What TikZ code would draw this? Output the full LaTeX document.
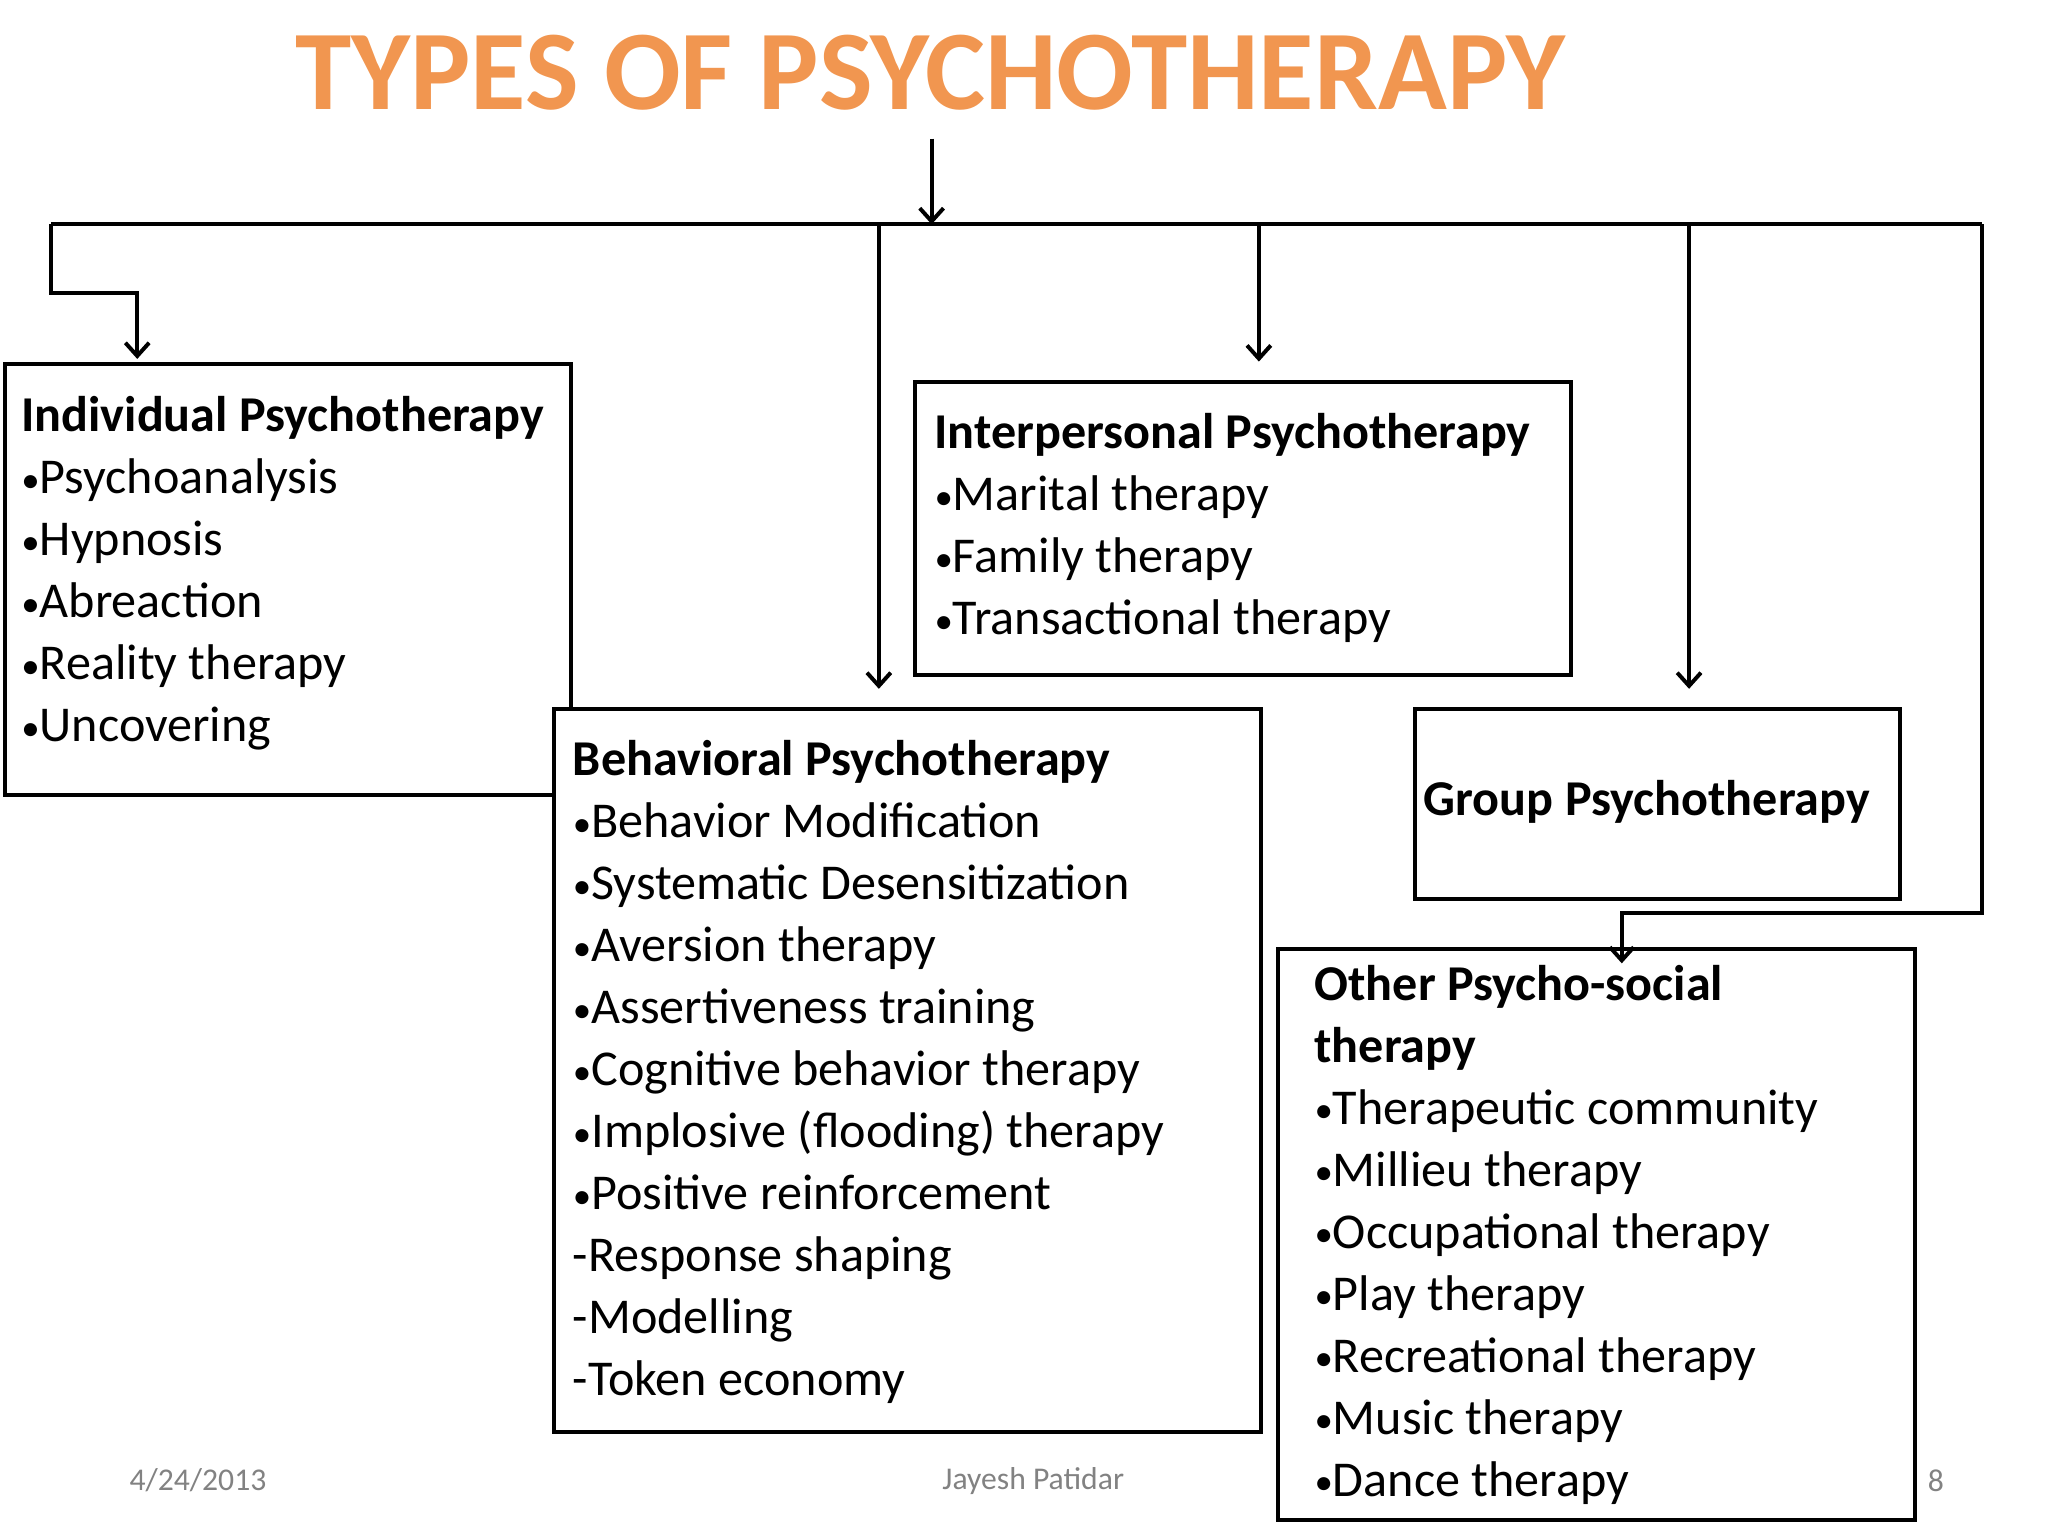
\documentclass[tikz,border=0pt]{standalone}
\usepackage{fontspec}
\setmainfont{Carlito}
\usetikzlibrary{arrows.meta}
\definecolor{ttl}{RGB}{241,150,80}
\definecolor{foot}{RGB}{130,130,130}
\newcommand{\bul}{{\fontsize{28}{47}\selectfont\raisebox{1pt}{•}}}
\begin{document}
\begin{tikzpicture}[x=1pt,y=-1pt,
  box/.style={draw,line width=3pt,fill=white,anchor=north west,inner sep=0pt},
  txt/.style={anchor=north west,align=left,inner sep=0pt,font=\fontsize{38}{47}\selectfont},
  ln/.style={line width=3pt},
  arr/.style={ln,-{Straight Barb[length=10pt,width=18pt,line width=3pt]}},
  ft/.style={text=foot,font=\fontsize{24}{28}\selectfont}]
\useasboundingbox (0,0) rectangle (1552,1164);
\node[text=ttl,font=\fontsize{86}{90}\selectfont\bfseries] (title) at (705,55) {TYPES OF PSYCHOTHERAPY};
% boxes
\node[box,minimum width=429pt,minimum height=327pt] (ind) at (2,274) {};
\node[box,minimum width=536pt,minimum height=548pt] (beh) at (418,536) {};
\node[box,minimum width=497pt,minimum height=222pt] (int) at (692,288) {};
\node[box,minimum width=367pt,minimum height=144pt] (grp) at (1071,536) {};
\node[box,minimum width=483pt,minimum height=432pt] (oth) at (967,718) {};
% texts
\node[txt] (indt) at (16,300) {\textbf{Individual Psychotherapy}\\\bul Psychoanalysis\\\bul Hypnosis\\\bul Abreaction\\\bul Reality therapy\\\bul Uncovering};
\node[txt] (beht) at (434,561) {\textbf{Behavioral Psychotherapy}\\\bul Behavior Modification\\\bul Systematic Desensitization\\\bul Aversion therapy\\\bul Assertiveness training\\\bul Cognitive behavior therapy\\\bul Implosive (flooding) therapy\\\bul Positive reinforcement\\-Response shaping\\-Modelling\\-Token economy};
\node[txt] (intt) at (708,313) {\textbf{Interpersonal Psychotherapy}\\\bul Marital therapy\\\bul Family therapy\\\bul Transactional therapy};
\node[txt,font=\fontsize{38}{47}\selectfont\bfseries,anchor=center] (grpt) at (1248,608) {Group Psychotherapy};
\node[txt] (otht) at (996,731) {\textbf{Other Psycho-social}\\\textbf{therapy}\\\bul Therapeutic community\\\bul Millieu therapy\\\bul Occupational therapy\\\bul Play therapy\\\bul Recreational therapy\\\bul Music therapy\\\bul Dance therapy};
% connectors
\coordinate (top) at (706,105);
\coordinate (bus) at (706,170);
\coordinate (busL) at (39,170);
\coordinate (busR) at (1502,170);
\draw[arr] (top) -- (bus);
\draw[ln] (busL) -- (busR);
\draw[arr] (busL) -- (39,222) -- (104,222) -- (104,272);
\draw[arr] (666,170) -- (666,522);
\draw[arr] (954,170) -- (954,274);
\draw[arr] (1280,170) -- (1280,522);
\draw[arr] (busR) -- (1502,692) -- (1229,692) -- (1229,730);
% footer
\node[ft] (date) at (150,1122) {4/24/2013};
\node[ft] (auth) at (783,1122) {Jayesh Patidar};
\node[ft] (pg) at (1467,1122) {8};
\end{tikzpicture}
\end{document}
